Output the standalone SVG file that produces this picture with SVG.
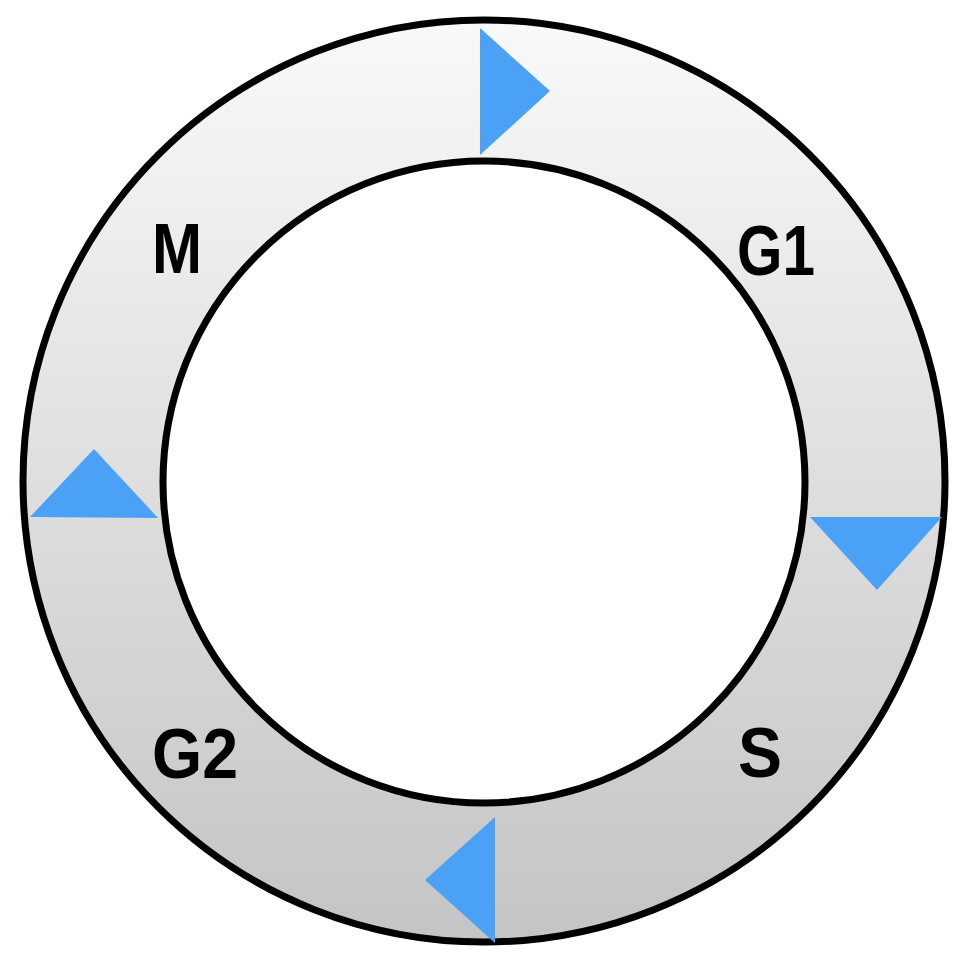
<svg xmlns="http://www.w3.org/2000/svg" width="969" height="974" viewBox="0 0 969 974">
<defs>
<linearGradient id="ringGrad" x1="0" y1="0" x2="0" y2="1">
<stop offset="0" stop-color="#f9f9f9"/>
<stop offset="1" stop-color="#c4c4c4"/>
</linearGradient>
<style>
.ring{stroke:#000;stroke-width:7}
.arrow{fill:#4aa1f6;stroke:none}
.lbl{font-family:"Liberation Sans",Arial,sans-serif;font-weight:bold;font-size:70px;fill:#000}
</style>
</defs>
<rect width="969" height="974" fill="#fff"/>
<g id="ring">
<circle class="ring" cx="484" cy="481" r="461" fill="url(#ringGrad)"/>
<circle class="ring" cx="484" cy="482" r="321" fill="#fff"/>
</g>
<g id="connectors">
<polygon class="arrow" points="480,28 480,155 550,91"/>
<polygon class="arrow" points="810,517 942,517 877,590"/>
<polygon class="arrow" points="495,817 495,943 425,880"/>
<polygon class="arrow" points="30,517 158,518 94,449"/>
</g>
<g id="node-M"><text class="lbl" x="152" y="273" textLength="50" lengthAdjust="spacingAndGlyphs">M</text></g>
<g id="node-G1"><text class="lbl" x="737" y="275" textLength="78" lengthAdjust="spacingAndGlyphs">G1</text></g>
<g id="node-S"><text class="lbl" x="738" y="777" textLength="44" lengthAdjust="spacingAndGlyphs">S</text></g>
<g id="node-G2"><text class="lbl" x="152" y="778" textLength="86" lengthAdjust="spacingAndGlyphs">G2</text></g>
</svg>
